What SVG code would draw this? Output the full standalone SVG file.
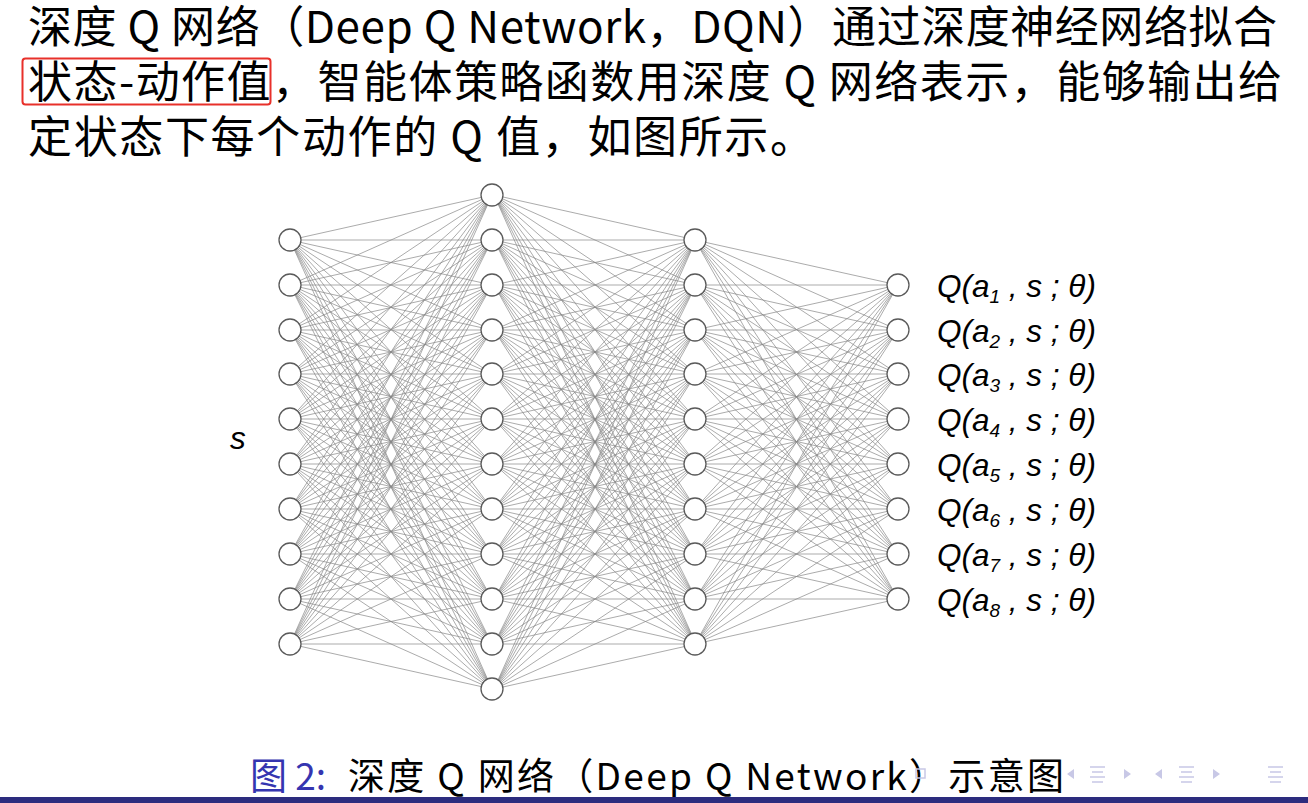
<svg xmlns="http://www.w3.org/2000/svg" xmlns:xlink="http://www.w3.org/1999/xlink" width="1308" height="803" viewBox="0 0 1308 803">
<style>
.body{font-family:"Noto Sans CJK SC","Noto Sans",sans-serif;font-size:44px;fill:#000}
.cap{font-family:"Noto Sans CJK SC","Noto Sans",sans-serif;font-size:37px;fill:#000}
.blue{fill:#3535b0}
.q{font-family:"Liberation Sans",Arial,sans-serif;font-style:italic;font-size:31.5px;fill:#000}
.sub{font-size:19px}
.edge{fill:none;stroke:#878787;stroke-width:0.7;stroke-linejoin:round}
.node circle{fill:#fff;stroke:#5a5a5a;stroke-width:1.3}
.nav{fill:#c8c8e6;stroke:none}
.navs{fill:none;stroke:#c8c8e6;stroke-width:1.5}
</style>
<rect width="1308" height="803" fill="#fff"/>
<g id="intro">
<text class="body" x="28" y="43" textLength="1249" lengthAdjust="spacing">深度 Q 网络（Deep Q Network，DQN）通过深度神经网络拟合</text>
<text class="body" x="28" y="98" textLength="1254" lengthAdjust="spacing">状态-动作值，智能体策略函数用深度 Q 网络表示，能够输出给</text>
<text class="body" x="28" y="153" textLength="786" lengthAdjust="spacing">定状态下每个动作的 Q 值，如图所示。</text>
<rect x="22.5" y="58.5" width="248" height="46" rx="3" fill="none" stroke="#e8302a" stroke-width="2"/>
</g>
<g id="connectors">
<path id="e12" class="edge" d="M492 195L290 240L492 240M492 285L290 240L492 330M492 374L290 240L492 419M492 464L290 240L492 509M492 554L290 240L492 599M492 644L290 240L492 689
M492 195L290 285L492 240M492 285L290 285L492 330M492 374L290 285L492 419M492 464L290 285L492 509M492 554L290 285L492 599M492 644L290 285L492 689
M492 195L290 330L492 240M492 285L290 330L492 330M492 374L290 330L492 419M492 464L290 330L492 509M492 554L290 330L492 599M492 644L290 330L492 689
M492 195L290 374L492 240M492 285L290 374L492 330M492 374L290 374L492 419M492 464L290 374L492 509M492 554L290 374L492 599M492 644L290 374L492 689
M492 195L290 419L492 240M492 285L290 419L492 330M492 374L290 419L492 419M492 464L290 419L492 509M492 554L290 419L492 599M492 644L290 419L492 689
M492 195L290 464L492 240M492 285L290 464L492 330M492 374L290 464L492 419M492 464L290 464L492 509M492 554L290 464L492 599M492 644L290 464L492 689
M492 195L290 509L492 240M492 285L290 509L492 330M492 374L290 509L492 419M492 464L290 509L492 509M492 554L290 509L492 599M492 644L290 509L492 689
M492 195L290 554L492 240M492 285L290 554L492 330M492 374L290 554L492 419M492 464L290 554L492 509M492 554L290 554L492 599M492 644L290 554L492 689
M492 195L290 599L492 240M492 285L290 599L492 330M492 374L290 599L492 419M492 464L290 599L492 509M492 554L290 599L492 599M492 644L290 599L492 689
M492 195L290 644L492 240M492 285L290 644L492 330M492 374L290 644L492 419M492 464L290 644L492 509M492 554L290 644L492 599M492 644L290 644L492 689"/>
<use xlink:href="#e12" href="#e12" transform="matrix(-1 0 0 1 986 0)"/>
<path class="edge" d="M898 285L695 240L898 330M898 374L695 240L898 419M898 464L695 240L898 509M898 554L695 240L898 599
M898 285L695 285L898 330M898 374L695 285L898 419M898 464L695 285L898 509M898 554L695 285L898 599
M898 285L695 330L898 330M898 374L695 330L898 419M898 464L695 330L898 509M898 554L695 330L898 599
M898 285L695 374L898 330M898 374L695 374L898 419M898 464L695 374L898 509M898 554L695 374L898 599
M898 285L695 419L898 330M898 374L695 419L898 419M898 464L695 419L898 509M898 554L695 419L898 599
M898 285L695 464L898 330M898 374L695 464L898 419M898 464L695 464L898 509M898 554L695 464L898 599
M898 285L695 509L898 330M898 374L695 509L898 419M898 464L695 509L898 509M898 554L695 509L898 599
M898 285L695 554L898 330M898 374L695 554L898 419M898 464L695 554L898 509M898 554L695 554L898 599
M898 285L695 599L898 330M898 374L695 599L898 419M898 464L695 599L898 509M898 554L695 599L898 599
M898 285L695 644L898 330M898 374L695 644L898 419M898 464L695 644L898 509M898 554L695 644L898 599"/>
</g>
<g id="input-layer">
<g id="in1" class="node"><circle cx="290" cy="240" r="11"/></g>
<g id="in2" class="node"><circle cx="290" cy="285" r="11"/></g>
<g id="in3" class="node"><circle cx="290" cy="330" r="11"/></g>
<g id="in4" class="node"><circle cx="290" cy="374" r="11"/></g>
<g id="in5" class="node"><circle cx="290" cy="419" r="11"/></g>
<g id="in6" class="node"><circle cx="290" cy="464" r="11"/></g>
<g id="in7" class="node"><circle cx="290" cy="509" r="11"/></g>
<g id="in8" class="node"><circle cx="290" cy="554" r="11"/></g>
<g id="in9" class="node"><circle cx="290" cy="599" r="11"/></g>
<g id="in10" class="node"><circle cx="290" cy="644" r="11"/></g>
</g>
<g id="hidden-layer-1">
<g id="h1_1" class="node"><circle cx="492" cy="195" r="11"/></g>
<g id="h1_2" class="node"><circle cx="492" cy="240" r="11"/></g>
<g id="h1_3" class="node"><circle cx="492" cy="285" r="11"/></g>
<g id="h1_4" class="node"><circle cx="492" cy="330" r="11"/></g>
<g id="h1_5" class="node"><circle cx="492" cy="374" r="11"/></g>
<g id="h1_6" class="node"><circle cx="492" cy="419" r="11"/></g>
<g id="h1_7" class="node"><circle cx="492" cy="464" r="11"/></g>
<g id="h1_8" class="node"><circle cx="492" cy="509" r="11"/></g>
<g id="h1_9" class="node"><circle cx="492" cy="554" r="11"/></g>
<g id="h1_10" class="node"><circle cx="492" cy="599" r="11"/></g>
<g id="h1_11" class="node"><circle cx="492" cy="644" r="11"/></g>
<g id="h1_12" class="node"><circle cx="492" cy="689" r="11"/></g>
</g>
<g id="hidden-layer-2">
<g id="h2_1" class="node"><circle cx="695" cy="240" r="11"/></g>
<g id="h2_2" class="node"><circle cx="695" cy="285" r="11"/></g>
<g id="h2_3" class="node"><circle cx="695" cy="330" r="11"/></g>
<g id="h2_4" class="node"><circle cx="695" cy="374" r="11"/></g>
<g id="h2_5" class="node"><circle cx="695" cy="419" r="11"/></g>
<g id="h2_6" class="node"><circle cx="695" cy="464" r="11"/></g>
<g id="h2_7" class="node"><circle cx="695" cy="509" r="11"/></g>
<g id="h2_8" class="node"><circle cx="695" cy="554" r="11"/></g>
<g id="h2_9" class="node"><circle cx="695" cy="599" r="11"/></g>
<g id="h2_10" class="node"><circle cx="695" cy="644" r="11"/></g>
</g>
<g id="output-layer">
<g id="out1" class="node"><circle cx="898" cy="285" r="11"/></g>
<g id="out2" class="node"><circle cx="898" cy="330" r="11"/></g>
<g id="out3" class="node"><circle cx="898" cy="374" r="11"/></g>
<g id="out4" class="node"><circle cx="898" cy="419" r="11"/></g>
<g id="out5" class="node"><circle cx="898" cy="464" r="11"/></g>
<g id="out6" class="node"><circle cx="898" cy="509" r="11"/></g>
<g id="out7" class="node"><circle cx="898" cy="554" r="11"/></g>
<g id="out8" class="node"><circle cx="898" cy="599" r="11"/></g>
</g>
<g id="labels">
<text class="q" x="230" y="449">s</text>
<text class="q" x="937" y="297">Q(a<tspan class="sub" dy="6">1</tspan><tspan dy="-6"> , s ; θ)</tspan></text>
<text class="q" x="937" y="342">Q(a<tspan class="sub" dy="6">2</tspan><tspan dy="-6"> , s ; θ)</tspan></text>
<text class="q" x="937" y="386">Q(a<tspan class="sub" dy="6">3</tspan><tspan dy="-6"> , s ; θ)</tspan></text>
<text class="q" x="937" y="431">Q(a<tspan class="sub" dy="6">4</tspan><tspan dy="-6"> , s ; θ)</tspan></text>
<text class="q" x="937" y="476">Q(a<tspan class="sub" dy="6">5</tspan><tspan dy="-6"> , s ; θ)</tspan></text>
<text class="q" x="937" y="521">Q(a<tspan class="sub" dy="6">6</tspan><tspan dy="-6"> , s ; θ)</tspan></text>
<text class="q" x="937" y="566">Q(a<tspan class="sub" dy="6">7</tspan><tspan dy="-6"> , s ; θ)</tspan></text>
<text class="q" x="937" y="611">Q(a<tspan class="sub" dy="6">8</tspan><tspan dy="-6"> , s ; θ)</tspan></text>
</g>
<g id="caption">
<text class="cap blue" x="250" y="790">图 2:</text>
<text class="cap" x="348" y="790" textLength="716" lengthAdjust="spacing">深度 Q 网络（Deep Q Network）示意图</text>
</g>
<g id="nav">
<rect class="navs" x="916" y="769" width="9" height="9"/>
<path class="nav" d="M1074 769L1067 774L1074 779Z M1124 769L1131 774L1124 779Z M1162 769L1155 774L1162 779Z M1213 769L1220 774L1213 779Z"/>
<path class="navs" d="M1090 767H1105M1092 772H1103M1090 777H1105M1092 782H1103 M1179 767H1194M1181 772H1192M1179 777H1194M1181 782H1192 M1268 767H1283M1270 772H1281M1268 777H1283M1270 782H1281"/>
</g>
<rect x="0" y="797" width="1308" height="6" fill="#2c2c7e"/>
</svg>
